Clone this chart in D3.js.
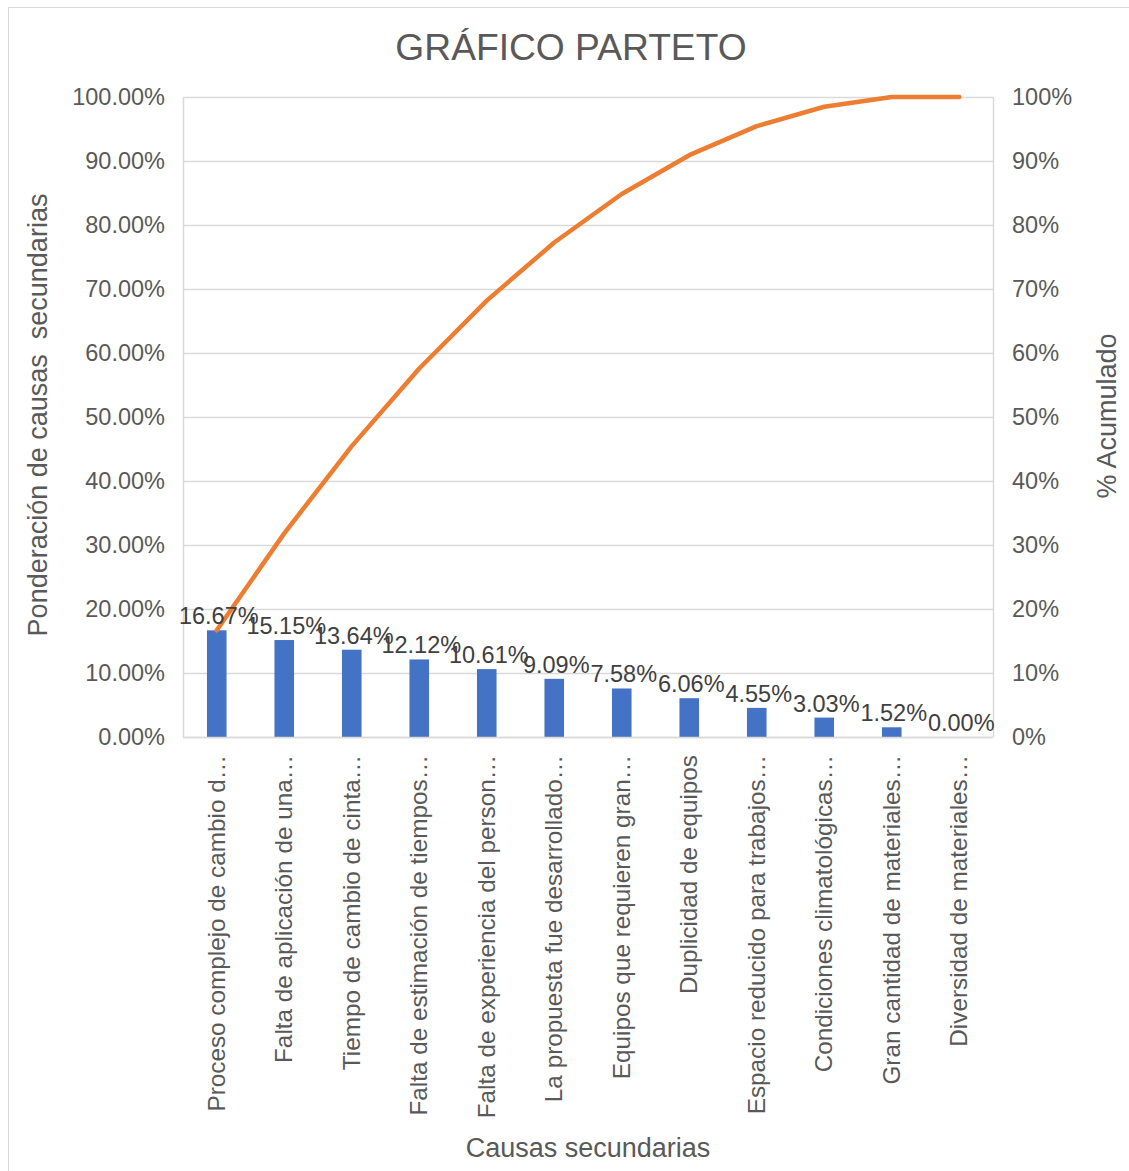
<!DOCTYPE html>
<html>
<head>
<meta charset="utf-8">
<script src="https://cdn.jsdelivr.net/npm/d3@7"></script>
<style>
  html, body { margin: 0; padding: 0; background: #fff; }
  svg { display: block; font-family: "Liberation Sans", Arial, sans-serif; }
</style>
</head>
<body>
<svg id="chart" width="1129" height="1171"></svg>
<script>
const categories = [
  "Proceso complejo de cambio d…",
  "Falta de aplicación de una…",
  "Tiempo de cambio de cinta…",
  "Falta de estimación de tiempos…",
  "Falta de experiencia del person…",
  "La propuesta fue desarrollado…",
  "Equipos que requieren gran…",
  "Duplicidad de equipos",
  "Espacio reducido para trabajos…",
  "Condiciones climatológicas…",
  "Gran cantidad de materiales…",
  "Diversidad de materiales…"
];
const weights = [16.67, 15.15, 13.64, 12.12, 10.61, 9.09, 7.58, 6.06, 4.55, 3.03, 1.52, 0.00];
const cumulative = [16.67, 31.82, 45.45, 57.58, 68.18, 77.27, 84.85, 90.91, 95.45, 98.48, 100, 100];
const leftTicks = [0, 10, 20, 30, 40, 50, 60, 70, 80, 90, 100];
const rightTicks = [0, 10, 20, 30, 40, 50, 60, 70, 80, 90, 100];

const svg = d3.select("#chart");
const plot = { left: 183, right: 993, top: 97, bottom: 737 };

// outer chart border
svg.append("rect").attr("x", 8.5).attr("y", 7.5).attr("width", 1140).attr("height", 1180)
  .attr("fill", "none").attr("stroke", "#D9D9D9").attr("stroke-width", 1);

const x = d3.scaleBand().domain(categories).range([plot.left, plot.right]).paddingInner(0.71).paddingOuter(0.355);
const yL = d3.scaleLinear().domain([0, 100]).range([plot.bottom, plot.top]);
const yR = d3.scaleLinear().domain([0, 100]).range([plot.bottom, plot.top]);
const xc = d => x(d) + x.bandwidth() / 2;

// gridlines
svg.append("g").selectAll("line").data(leftTicks).join("line")
  .attr("x1", plot.left).attr("x2", plot.right)
  .attr("y1", d => Math.round(yL(d)) + 0.5).attr("y2", d => Math.round(yL(d)) + 0.5)
  .attr("stroke", "#D9D9D9").attr("stroke-width", 1.5);
// plot side borders
[plot.left, plot.right].forEach(px => {
  svg.append("line").attr("x1", px + 0.5).attr("x2", px + 0.5).attr("y1", plot.top).attr("y2", plot.bottom)
    .attr("stroke", "#D9D9D9").attr("stroke-width", 1.5);
});

// left axis
const leftAxis = d3.axisLeft(yL).tickValues(leftTicks).tickSize(0).tickPadding(18)
  .tickFormat(d => d3.format(".2f")(d) + "%");
const gL = svg.append("g").attr("transform", `translate(${plot.left},0)`).call(leftAxis);
gL.select(".domain").remove();
gL.selectAll("text").attr("font-size", 23.5).attr("fill", "#595959")
  .attr("font-family", "Liberation Sans, Arial, sans-serif");

// right axis
const rightAxis = d3.axisRight(yR).tickValues(rightTicks).tickSize(0).tickPadding(19)
  .tickFormat(d => d + "%");
const gR = svg.append("g").attr("transform", `translate(${plot.right},0)`).call(rightAxis);
gR.select(".domain").remove();
gR.selectAll("text").attr("font-size", 23.5).attr("fill", "#595959")
  .attr("font-family", "Liberation Sans, Arial, sans-serif");

// bars
svg.append("g").selectAll("rect").data(weights).join("rect")
  .attr("x", (d, i) => x(categories[i]))
  .attr("width", x.bandwidth())
  .attr("y", d => yL(d))
  .attr("height", d => plot.bottom - yL(d))
  .attr("fill", "#4472C4");

// bottom axis line
svg.append("line").attr("x1", plot.left).attr("x2", plot.right)
  .attr("y1", plot.bottom + 0.5).attr("y2", plot.bottom + 0.5)
  .attr("stroke", "#D9D9D9").attr("stroke-width", 1.5);

// cumulative line
const line = d3.line().x((d, i) => xc(categories[i])).y(d => yR(d));
svg.append("path").datum(cumulative).attr("d", line)
  .attr("fill", "none").attr("stroke", "#ED7D31").attr("stroke-width", 4.5)
  .attr("stroke-linejoin", "round").attr("stroke-linecap", "round");

// data labels
svg.append("g").selectAll("text").data(weights).join("text")
  .attr("x", (d, i) => xc(categories[i]) + 2)
  .attr("y", d => yL(d) - 6)
  .attr("text-anchor", "middle")
  .attr("font-size", 23.5).attr("fill", "#404040")
  .text(d => d.toFixed(2) + "%");

// category labels
svg.append("g").selectAll("text").data(categories).join("text")
  .attr("transform", d => `translate(${xc(d)},${plot.bottom + 18}) rotate(-90)`)
  .attr("text-anchor", "end").attr("dy", "0.32em")
  .attr("font-size", 24.3).attr("fill", "#595959")
  .text(d => d);

// title
svg.append("text").attr("x", 571).attr("y", 60).attr("text-anchor", "middle")
  .attr("font-size", 37.2).attr("fill", "#595959").text("GRÁFICO PARTETO");

// axis titles
svg.append("text").attr("transform", "translate(47,415) rotate(-90)").attr("text-anchor", "middle")
  .attr("font-size", 27).attr("fill", "#595959").attr("xml:space", "preserve")
  .text("Ponderación de causas  secundarias");
svg.append("text").attr("transform", "translate(1116,416) rotate(-90)").attr("text-anchor", "middle")
  .attr("font-size", 27).attr("fill", "#595959").text("% Acumulado");
svg.append("text").attr("x", 588).attr("y", 1157).attr("text-anchor", "middle")
  .attr("font-size", 27).attr("fill", "#595959").text("Causas secundarias");
</script>
</body>
</html>
